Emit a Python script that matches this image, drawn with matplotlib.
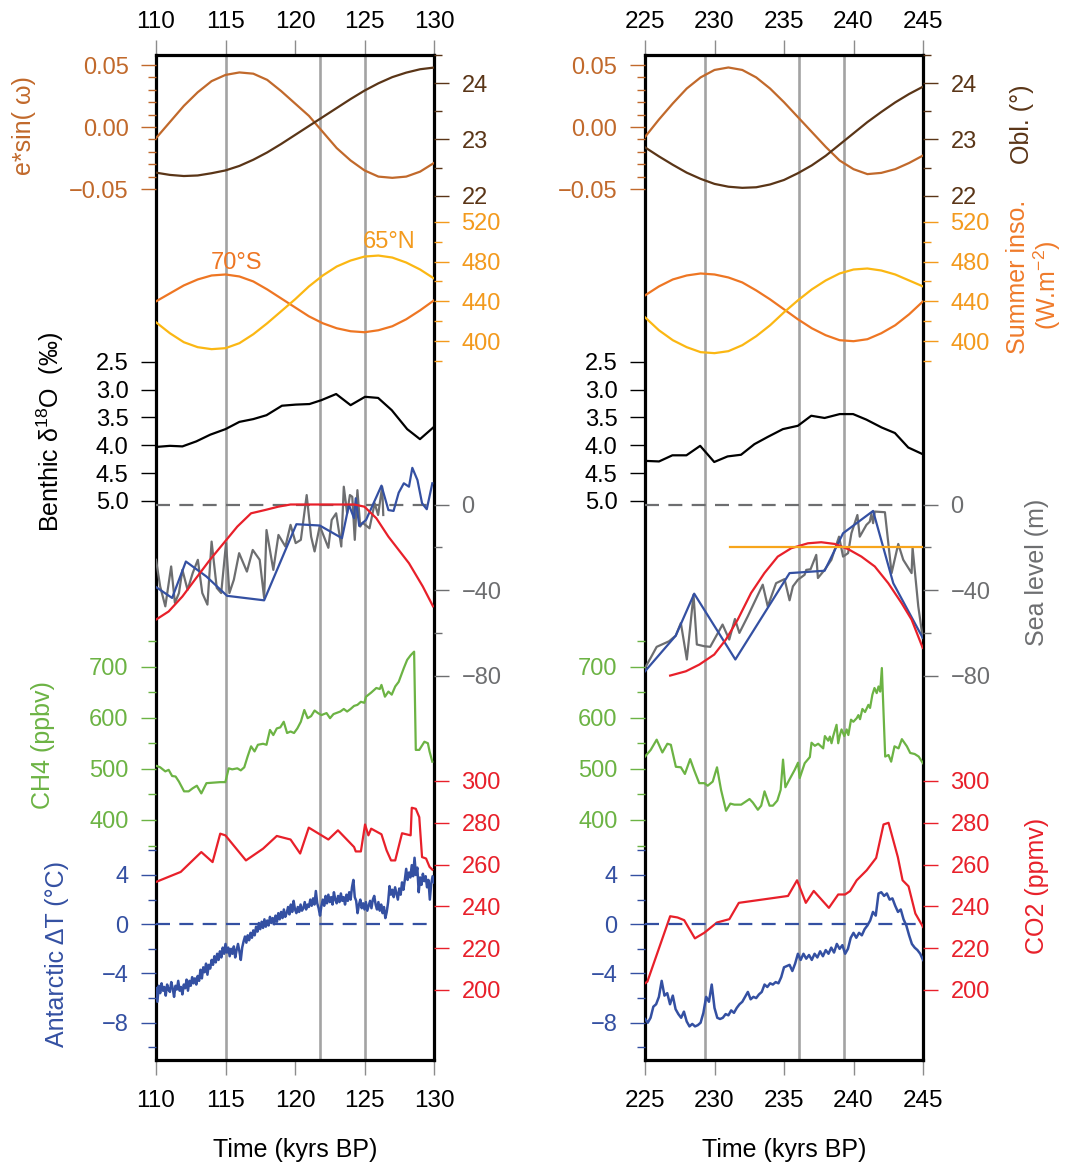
import numpy as np
import matplotlib
matplotlib.use("Agg")
import matplotlib.pyplot as plt

plt.rcParams['font.family'] = ['Liberation Sans', 'DejaVu Sans']
plt.rcParams['mathtext.fontset'] = 'custom'
plt.rcParams['mathtext.rm'] = 'Liberation Sans'
plt.rcParams['mathtext.it'] = 'Liberation Sans:italic'
plt.rcParams['mathtext.default'] = 'regular'

# ---------------------------------------------------------------- data
# Orbital parameters, 1-kyr steps
orb_t_L = list(range(110, 131))
orb_t_R = list(range(225, 246))
esin_L = [-0.009, 0.004, 0.017, 0.028, 0.037, 0.042, 0.044, 0.043, 0.038, 0.029, 0.019,
          0.009, -0.004, -0.017, -0.027, -0.035, -0.040, -0.041, -0.040, -0.036, -0.029]
esin_R = [-0.008, 0.006, 0.019, 0.031, 0.040, 0.046, 0.048, 0.046, 0.040, 0.031, 0.020,
          0.008, -0.004, -0.016, -0.027, -0.034, -0.038, -0.037, -0.034, -0.029, -0.023]
obl_L = [22.41, 22.37, 22.35, 22.36, 22.40, 22.45, 22.53, 22.64, 22.77, 22.92, 23.08,
         23.24, 23.40, 23.56, 23.72, 23.87, 24.00, 24.11, 24.19, 24.25, 24.28]
obl_R = [22.86, 22.70, 22.55, 22.41, 22.30, 22.21, 22.16, 22.14, 22.15, 22.20, 22.28,
         22.40, 22.54, 22.71, 22.91, 23.11, 23.31, 23.49, 23.66, 23.81, 23.94]
ins70S_L = [440, 448, 456, 462, 466, 467, 465, 460, 452, 443, 434,
            425, 418, 413, 410, 409, 411, 415, 422, 431, 441]
ins65N_L = [419, 408, 399, 394, 392, 393, 398, 407, 418, 430, 442,
            455, 466, 475, 481, 485, 486, 484, 479, 472, 463]
ins70S_R = [446, 455, 462, 466, 468, 467, 464, 459, 451, 442, 432,
            422, 413, 406, 401, 400, 402, 408, 416, 427, 440]
ins65N_R = [424, 411, 401, 394, 389, 388, 390, 396, 405, 416, 429,
            441, 452, 461, 468, 472, 473, 471, 467, 461, 455]

# Benthic d18O stack (permil)
d18o_t_L = [110.0, 111.0, 111.9, 112.9, 113.9, 115.0, 116.0, 117.0, 117.95, 119.06, 120.05,
            121.04, 121.9, 122.96, 124.0, 125.04, 125.98, 126.96, 128.07, 128.99, 129.95]
d18o_L = [4.03, 4.01, 4.02, 3.93, 3.81, 3.71, 3.58, 3.53, 3.46, 3.29, 3.27,
          3.26, 3.19, 3.08, 3.28, 3.13, 3.15, 3.37, 3.71, 3.89, 3.68]
d18o_t_R = [225.0, 226.01, 226.97, 227.98, 228.97, 229.98, 230.94, 231.91, 232.87, 233.83, 234.92,
            236.0, 236.96, 237.92, 239.01, 239.97, 240.93, 242.02, 242.98, 243.94, 244.98]
d18o_R = [4.28, 4.29, 4.18, 4.18, 4.01, 4.30, 4.20, 4.17, 3.98, 3.85, 3.71,
          3.65, 3.47, 3.51, 3.44, 3.44, 3.54, 3.68, 3.78, 4.04, 4.16]

# Sea level (m): grey and blue reconstructions, red modelled curve
rsl_grey_t_L = [110.0, 110.3, 110.67, 111.09, 111.36, 111.65, 111.9, 112.27, 112.64, 113.01,
                113.33, 113.7, 114.0, 114.37, 114.69, 115.04, 115.28, 115.6, 115.98, 116.54,
                116.96, 117.46, 117.78, 117.95, 118.44, 118.81, 119.31, 119.68, 120.05, 120.42,
                120.84, 121.16, 121.41, 121.78, 122.4, 122.64, 122.96, 123.33, 123.51, 123.75,
                123.95, 124.12, 124.3, 124.49, 124.69, 124.86, 125.36, 125.73, 125.98, 126.27, 126.35]
rsl_grey_L = [-25.8, -38.2, -47.5, -28.9, -45.9, -41.3, -30.5, -39.8, -32.0, -25.8,
              -41.3, -46.7, -17.3, -38.9, -41.3, -18.0, -41.3, -35.1, -22.7, -31.3,
              -21.2, -25.8, -43.6, -11.9, -30.5, -14.2, -19.6, -9.5, -18.0, -16.5,
              4.4, -15.0, -21.9, -10.0, -20.2, -7.2, -4.1, -19.6, 8.3, -4.1,
              4.4, 3.6, -16.5, 6.7, -10.3, -8.5, -11.1, 0.6, -4.9, 8.3, -4.9]
rsl_blue_t_L = [110.0, 111.16, 112.15, 113.63, 115.11, 117.78, 120.1, 121.78, 123.38, 123.88,
                124.25, 124.37, 124.62, 125.11, 126.22, 126.72, 127.09, 127.46, 127.83, 128.2,
                128.44, 128.81, 129.14, 129.48, 129.88]
rsl_blue_L = [-38.5, -43.6, -26.6, -33.6, -42.6, -44.7, -9.2, -9.8, -15.7, -0.2,
              -6.4, 2.9, -10.0, -7.2, 8.8, -2.6, -3.0, 5.5, 9.9, 8.3,
              17.1, 11.4, 0.6, -2.2, 9.9]
rsl_red_t_L = [110.0, 110.91, 111.9, 112.89, 113.88, 114.86, 115.85, 116.84, 117.83, 118.81,
               119.68, 124.25, 124.99, 125.85, 126.72, 127.46, 128.2, 129.19, 129.93]
rsl_red_L = [-53.7, -49.9, -42.9, -34.3, -25.8, -18.1, -10.3, -4.1, -2.6, -1.0,
             0.0, 0.0, -1.0, -6.4, -15.0, -21.2, -27.4, -38.2, -47.5]

rsl_grey_t_R = [225.0, 225.41, 225.84, 226.73, 227.21, 227.58, 228.01, 228.49, 228.73, 229.26,
                229.69, 230.58, 231.06, 231.47, 231.79, 232.39, 233.47, 233.83, 234.43, 235.04,
                235.40, 235.64, 236.0, 236.48, 236.6, 236.91, 237.32, 237.44, 237.92, 238.41,
                238.96, 239.25, 239.61, 239.85, 240.28, 240.45, 240.93, 241.17, 241.29, 241.41,
                241.53, 242.26, 242.74, 243.22, 243.58, 244.18, 244.25, 244.66, 244.98]
rsl_grey_R = [-76.2, -71.5, -66.4, -63.8, -61.2, -55.3, -72.3, -42.1, -65.3, -66.1,
              -66.4, -56.0, -63.0, -53.4, -59.9, -52.2, -37.4, -47.5, -36.7, -34.8,
              -44.7, -38.2, -35.1, -32.8, -30.5, -30.2, -23.5, -34.3, -30.5, -25.8,
              -15.0, -24.3, -22.7, -13.4, -4.9, -15.0, -9.5, -8.0, -4.4, -8.7,
              -3.3, -3.6, -32.0, -18.4, -25.8, -32.0, -20.2, -47.5, -62.2]
rsl_blue_t_R = [225.0, 227.21, 228.54, 231.5, 235.4, 237.92, 239.25, 241.41, 242.86, 244.98]
rsl_blue_R = [-77.8, -61.2, -41.6, -72.3, -32.0, -30.9, -13.4, -3.0, -36.7, -62.2]
rsl_red_t_R = [226.81, 227.94, 228.9, 229.98, 230.82, 231.67, 232.63, 233.59, 234.55, 235.52,
               236.72, 237.68, 238.65, 239.61, 240.57, 241.53, 242.5, 243.46, 244.18, 244.98]
rsl_red_R = [-79.8, -77.8, -74.7, -70.0, -63.0, -53.7, -41.3, -32.0, -24.3, -20.4,
             -18.1, -17.6, -18.4, -20.8, -24.3, -28.9, -36.7, -46.0, -53.7, -66.9]
rsl_ref_t_R = [231.1, 245.0]
rsl_ref_R = [-20.0, -20.0]

# Methane (ppbv)
ch4_t_L = [110.0, 110.3, 110.67, 110.91, 111.16, 111.41, 111.65, 112.02, 112.35, 112.64,
           112.94, 113.26, 113.63, 114.12, 114.62, 114.99, 115.23, 115.48, 115.85, 116.1,
           116.35, 116.59, 116.84, 117.09, 117.33, 117.7, 117.95, 118.2, 118.44, 118.69,
           118.94, 119.19, 119.43, 119.68, 119.93, 120.17, 120.42, 120.67, 120.91, 121.16,
           121.41, 121.65, 121.9, 122.27, 122.52, 122.77, 123.26, 123.51, 123.75, 124.0,
           124.25, 124.49, 124.74, 124.99, 125.11, 125.48, 125.85, 126.1, 126.22, 126.47,
           126.72, 126.96, 127.21, 127.46, 127.83, 128.07, 128.32, 128.57, 128.69, 128.94,
           129.31, 129.56, 129.68, 129.88]
ch4_L = [506, 503, 495, 498, 486, 485, 475, 456, 456, 462,
         467, 452, 472, 473, 474, 474, 501, 499, 501, 497,
         503, 524, 544, 534, 547, 549, 547, 576, 566, 579,
         581, 592, 570, 573, 570, 579, 592, 615, 599, 603,
         614, 609, 605, 609, 599, 607, 612, 617, 612, 617,
         623, 625, 631, 629, 641, 649, 658, 656, 664, 641,
         651, 645, 661, 670, 697, 713, 722, 729, 537, 537,
         553, 550, 534, 514]
ch4_t_R = [225.0, 225.41, 225.84, 226.25, 226.61, 226.86, 227.22, 227.58, 227.87, 228.25,
           228.54, 228.9, 229.27, 229.51, 229.87, 230.18, 230.47, 230.83, 231.14, 231.43,
           231.92, 232.52, 232.76, 233.12, 233.36, 233.6, 233.96, 234.2, 234.52, 234.76,
           234.93, 235.1, 235.41, 235.77, 236.01, 236.13, 236.49, 236.86, 236.98, 237.22,
           237.46, 237.82, 237.94, 238.18, 238.3, 238.42, 238.54, 238.78, 238.9, 239.02,
           239.14, 239.34, 239.51, 239.63, 239.82, 239.99, 240.23, 240.35, 240.47, 240.64,
           240.83, 241.07, 241.19, 241.36, 241.51, 241.67, 241.8, 241.92, 242.04, 242.28,
           242.52, 242.71, 242.95, 243.24, 243.48, 243.84, 244.08, 244.4, 244.69, 245.0]
ch4_R = [524, 537, 557, 532, 549, 547, 504, 503, 490, 519,
         497, 472, 472, 467, 475, 503, 459, 418, 432, 430,
         430, 441, 434, 420, 428, 456, 428, 428, 438, 459,
         518, 464, 480, 498, 512, 482, 511, 523, 551, 545,
         549, 540, 564, 555, 563, 550, 564, 586, 550, 566,
         577, 564, 577, 566, 596, 592, 599, 605, 597, 617,
         611, 625, 619, 645, 658, 648, 661, 651, 697, 524,
         527, 514, 544, 540, 558, 544, 531, 529, 524, 511]

# Carbon dioxide (ppmv)
co2_t_L = [110.0, 111.78, 113.26, 114.07, 114.62, 114.99, 116.47, 117.7, 118.69, 119.68,
           120.37, 120.99, 122.4, 123.09, 124.25, 124.37, 124.74, 125.04, 125.28, 125.48,
           126.22, 126.59, 126.91, 127.21, 127.7, 128.32, 128.4, 128.69, 128.94, 129.14,
           129.43, 129.68, 129.88]
co2_L = [251.7, 256.5, 266.0, 261.2, 274.8, 274.0, 262.0, 267.6, 273.7, 272.0,
         265.3, 277.7, 272.0, 276.4, 268.4, 266.3, 266.3, 279.2, 274.0, 277.2,
         274.5, 266.8, 262.0, 262.0, 275.0, 274.0, 287.2, 286.7, 282.7, 263.6,
         262.9, 258.9, 257.6]
co2_t_R = [225.0, 225.17, 226.81, 227.34, 227.82, 228.59, 229.27, 230.18, 231.07, 231.75,
           235.29, 235.94, 236.57, 237.14, 238.23, 238.9, 239.39, 239.75, 240.23, 240.95,
           241.63, 242.16, 242.52, 243.19, 243.53, 243.96, 244.45, 245.0]
co2_R = [203.2, 204.0, 235.3, 234.7, 233.4, 224.7, 227.4, 232.3, 233.9, 241.7,
         245.0, 252.5, 241.7, 247.4, 239.3, 245.7, 245.7, 247.3, 252.5, 257.3,
         263.2, 279.2, 280.0, 263.6, 252.5, 249.6, 236.6, 230.2]

# Antarctic temperature anomaly (deg C)
dT_t_L = np.round(np.arange(110.0, 130.05, 0.1), 2)
dT_L = [-5.2, -6.3, -5.0, -5.6, -4.8, -5.4, -5.1, -5.8, -4.9, -5.3,
        -5.5, -4.7, -5.2, -5.9, -5.0, -5.3, -4.6, -5.4, -5.1, -5.7,
        -4.9, -5.2, -4.5, -5.4, -4.6, -5.0, -4.3, -4.8, -4.4, -4.9,
        -4.2, -4.6, -3.7, -4.4, -3.5, -3.9, -3.2, -4.1, -3.3, -3.6,
        -2.9, -3.3, -2.6, -3.1, -2.4, -2.9, -2.2, -2.7, -1.9, -2.4,
        -1.6, -2.3, -1.9, -2.6, -2.0, -2.4, -1.8, -2.7, -2.1, -1.6,
        -2.2, -2.9, -1.9, -1.4, -1.0, -1.5, -0.9, -1.3, -0.7, -1.1,
        -0.5, -0.9, -0.2, -0.6, 0.1, -0.4, 0.2, -0.3, 0.4, -0.2,
        0.3, -0.1, 0.6, 0.1, 0.5, 0.0, 0.7, 0.2, 0.9, 0.4,
        1.0, 0.5, 1.2, 0.6, 0.9, 1.4, 0.8, 1.6, 1.0, 1.9,
        1.2, 0.9, 1.4, 1.0, 1.6, 1.1, 1.3, 1.8, 1.2, 1.6,
        1.4, 2.0, 1.5, 2.1, 1.6, 2.7, 1.7, 1.3, 0.7, 1.5,
        2.0, 1.5, 2.3, 1.7, 2.4, 1.8, 2.2, 1.6, 2.6, 2.0,
        1.7, 2.3, 1.8, 2.5, 1.9, 2.2, 1.6, 2.4, 1.9, 2.6,
        2.0, 3.0, 3.6, 2.2, 1.9, 0.9, 1.6, 2.0, 1.3, 1.7,
        1.2, 1.8, 1.1, 1.5, 1.9, 1.3, 2.0, 2.3, 1.6, 1.2,
        1.8, 1.1, 1.6, 0.9, 1.4, 0.5, 1.0, 1.8, 3.1, 2.4,
        2.8, 2.2, 3.0, 2.5, 2.0, 2.9, 2.4, 3.4, 2.8, 3.6,
        4.5, 3.6, 4.2, 3.8, 4.8, 3.9, 5.4, 4.0, 4.6, 2.6,
        3.8, 3.2, 4.1, 3.5, 3.9, 3.0, 3.6, 2.0, 3.3, 3.9,
        3.4]
dT_t_R = np.round(np.arange(225.0, 245.05, 0.2), 2)
dT_R = [-7.7, -8.0, -7.6, -6.7, -6.5, -5.9, -4.6, -5.8, -5.6, -6.5,
        -5.8, -6.9, -7.3, -7.6, -7.1, -7.9, -8.3, -8.1, -8.3, -8.2,
        -8.0, -7.2, -5.9, -6.3, -4.9, -6.8, -7.6, -7.7, -7.6, -7.3,
        -7.4, -7.0, -7.2, -6.8, -6.5, -6.3, -5.9, -5.5, -6.1, -5.9,
        -6.0, -5.7, -5.5, -4.9, -5.1, -4.8, -4.9, -4.7, -4.8, -4.3,
        -3.5, -3.4, -3.3, -3.8, -3.2, -2.4, -2.9, -2.4, -2.8, -2.5,
        -2.9, -2.4, -2.7, -2.2, -2.6, -2.1, -2.4, -1.9, -2.3, -1.6,
        -2.0, -1.7, -2.4, -2.0, -1.1, -0.7, -1.1, -0.7, -0.9, -0.4,
        -0.1, 0.3, 1.0, 0.7, 2.5, 2.6, 2.3, 2.5, 2.0, 2.1,
        1.5, 1.0, 1.2, 0.4, -0.1, -0.9, -1.6, -1.9, -2.1, -2.4,
        -2.9]

# Time markers
marks_L = [115.0, 121.8, 125.0]
marks_R = [229.3, 236.1, 239.35]

xticks_L = [110, 115, 120, 125, 130]
xticks_R = [225, 230, 235, 240, 245]

# ---------------------------------------------------------------- styling
C_ESIN = '#c1692b'
C_OBL = '#5a3517'
C_70S = '#ee7623'
C_65N = '#fbb713'
C_INS = '#f39a1d'
C_INSLAB = '#ef7a2a'
C_GREY = '#6d6e70'
C_BLUE = '#3450a2'
C_RED = '#e8202a'
C_GREEN = '#6cb344'
C_REF = '#f7a51c'
C_MARK = '#a3a3a3'
C_XTICK = '#8c8c8c'

FS_YTICK = 17
FS_XTICK = 17.5
FS_LABEL = 18

W, H = 1066, 1165
TOP, BOT = 55, 1060           # frame edges in pixels from the top

# value -> pixel anchor pairs for every stacked scale
SCALES = {
    'esin': (0.05, 65.0, -0.05, 189.0),
    'obl':  (24.0, 83.3, 22.0, 195.7),
    'ins':  (520.0, 221.7, 400.0, 341.2),
    'd18o': (2.5, 361.7, 5.0, 501.0),
    'sea':  (0.0, 504.5, -80.0, 676.0),
    'ch4':  (700.0, 666.5, 400.0, 820.0),
    'co2':  (300.0, 781.0, 200.0, 990.0),
    'dT':   (4.0, 875.0, -8.0, 1022.7),
}

MINUS = '\u2212'


def fmt(v, nd=0):
    s = f'{v:.{nd}f}'
    return s.replace('-', MINUS)


fig = plt.figure(figsize=(W / 100, H / 100), dpi=100)


def layer(base, key, side, major, minor, nd, color, lcolor=None):
    v0, p0, v1, p1 = SCALES[key]
    a = (p1 - p0) / (v1 - v0)
    b = p0 - a * v0
    lay = base.twinx()
    lay.set_ylim((BOT - b) / a, (TOP - b) / a)
    for s in lay.spines.values():
        s.set_visible(False)
    lay.patch.set_visible(False)
    if side == 'left':
        lay.yaxis.tick_left()
    else:
        lay.yaxis.tick_right()
    lay.set_yticks(major)
    lay.set_yticklabels([fmt(v, nd) for v in major])
    lay.set_yticks(minor, minor=True)
    lay.tick_params(axis='y', which='major', direction='out', length=10.8, width=1.0,
                    color=color, labelcolor=lcolor or color, labelsize=FS_YTICK, pad=9)
    lay.tick_params(axis='y', which='minor', direction='out', length=5.8, width=1.0,
                    color=color)
    return lay


def panel(x0, x1, xlim, xticks, marks, d):
    base = fig.add_axes([x0 / W, 1 - BOT / H, (x1 - x0) / W, (BOT - TOP) / H])
    base.set_xlim(*xlim)
    base.set_ylim(0, 1)
    base.set_yticks([])
    base.set_xticks(xticks)
    base.set_xticklabels([str(v) for v in xticks])
    base.tick_params(axis='x', which='major', bottom=True, labelbottom=True,
                     top=False, labeltop=False, direction='out', length=10.8,
                     width=1.0, color=C_XTICK, labelsize=FS_XTICK, pad=11)
    # time axis repeated along the top edge
    sec = base.secondary_xaxis('top')
    sec.set_xticks(xticks)
    sec.set_xticklabels([str(v) for v in xticks])
    sec.tick_params(axis='x', which='major', direction='out', length=10.8, width=1.0,
                    color=C_XTICK, labelsize=FS_XTICK, pad=5)
    sec.spines['top'].set_visible(False)
    for s in base.spines.values():
        s.set_linewidth(2.3)
        s.set_color('black')
    for m in marks:
        base.axvline(m, color=C_MARK, lw=1.9, zorder=0.5)

    lw = 1.6
    a = layer(base, 'esin', 'left', [-0.05, 0.0, 0.05],
              [-0.04, -0.03, -0.02, -0.01, 0.01, 0.02, 0.03, 0.04], 2, C_ESIN)
    a.plot(d['orb_t'], d['esin'], color=C_ESIN, lw=lw)

    a = layer(base, 'obl', 'right', [22, 23, 24], [22.5, 23.5, 24.5], 0, C_OBL)
    a.plot(d['orb_t'], d['obl'], color=C_OBL, lw=lw)

    a = layer(base, 'ins', 'right', [400, 440, 480, 520], [380, 420, 460, 500], 0, C_INS)
    a.plot(d['orb_t'], d['i70'], color=C_70S, lw=lw)
    a.plot(d['orb_t'], d['i65'], color=C_65N, lw=lw)
    if d['tags']:
        a.text(115.8, 479, '70°S', color=C_70S, fontsize=FS_YTICK, ha='center', va='center')
        a.text(126.75, 500, '65°N', color=C_INS, fontsize=FS_YTICK, ha='center', va='center')

    a = layer(base, 'd18o', 'left', [2.5, 3.0, 3.5, 4.0, 4.5, 5.0], [], 1, 'black')
    a.plot(d['d18o_t'], d['d18o'], color='black', lw=lw)

    a = layer(base, 'sea', 'right', [-80, -40, 0], [-60, -20], 0, C_GREY)
    a.axhline(0, color=C_GREY, lw=1.6, ls=(0, (6.3, 4.2)), zorder=1)
    a.plot(d['g_t'], d['g'], color=C_GREY, lw=lw)
    a.plot(d['b_t'], d['b'], color=C_BLUE, lw=lw)
    a.plot(d['r_t'], d['r'], color=C_RED, lw=lw)
    if d.get('ref_t') is not None:
        a.plot(d['ref_t'], d['ref'], color=C_REF, lw=lw)

    a = layer(base, 'ch4', 'left', [400, 500, 600, 700], [350, 450, 550, 650, 750], 0, C_GREEN)
    a.plot(d['ch4_t'], d['ch4'], color=C_GREEN, lw=lw)

    a = layer(base, 'co2', 'right', [200, 220, 240, 260, 280, 300], [], 0, C_RED)
    a.plot(d['co2_t'], d['co2'], color=C_RED, lw=lw)

    a = layer(base, 'dT', 'left', [-8, -4, 0, 4], [-10, -6, -2, 2, 6], 0, C_BLUE)
    a.axhline(0, color=C_BLUE, lw=1.6, ls=(0, (6.3, 4.2)), zorder=1)
    a.plot(d['dT_t'], d['dT'], color=C_BLUE, lw=1.8)
    return base


panel(156, 434, (110, 130), xticks_L, marks_L, dict(
    orb_t=orb_t_L, esin=esin_L, obl=obl_L, i70=ins70S_L, i65=ins65N_L, tags=True,
    d18o_t=d18o_t_L, d18o=d18o_L,
    g_t=rsl_grey_t_L, g=rsl_grey_L, b_t=rsl_blue_t_L, b=rsl_blue_L,
    r_t=rsl_red_t_L, r=rsl_red_L,
    ch4_t=ch4_t_L, ch4=ch4_L, co2_t=co2_t_L, co2=co2_L, dT_t=dT_t_L, dT=dT_L))

panel(645, 923, (225, 245), xticks_R, marks_R, dict(
    orb_t=orb_t_R, esin=esin_R, obl=obl_R, i70=ins70S_R, i65=ins65N_R, tags=False,
    d18o_t=d18o_t_R, d18o=d18o_R,
    g_t=rsl_grey_t_R, g=rsl_grey_R, b_t=rsl_blue_t_R, b=rsl_blue_R,
    r_t=rsl_red_t_R, r=rsl_red_R, ref_t=rsl_ref_t_R, ref=rsl_ref_R,
    ch4_t=ch4_t_R, ch4=ch4_R, co2_t=co2_t_R, co2=co2_R, dT_t=dT_t_R, dT=dT_R))


def side_label(x, y, s, color, **kw):
    fig.text(x / W, 1 - y / H, s, rotation=90, ha='center', va='center',
             color=color, fontsize=FS_LABEL, **kw)


side_label(24, 126, 'e*sin( ω)', C_ESIN)
side_label(1022, 124, 'Obl. (°)', C_OBL)
side_label(1018, 277, 'Summer inso.', C_INSLAB)
side_label(1047, 285, '(W.m$^{-2}$)', C_INSLAB)
side_label(50, 432, 'Benthic δ$^{18}$O  (‰)', 'black')
side_label(1037, 572, 'Sea level (m)', C_GREY)
side_label(43, 745, 'CH4 (ppbv)', C_GREEN)
side_label(1037, 886, 'CO2 (ppmv)', C_RED)
side_label(57, 954, 'Antarctic ΔT (°C)', C_BLUE)

for cx in (295, 784):
    fig.text(cx / W, 1 - 1150 / H, 'Time (kyrs BP)', ha='center', va='center',
             fontsize=FS_LABEL, color='black')

fig.savefig('out.png', dpi=100)
